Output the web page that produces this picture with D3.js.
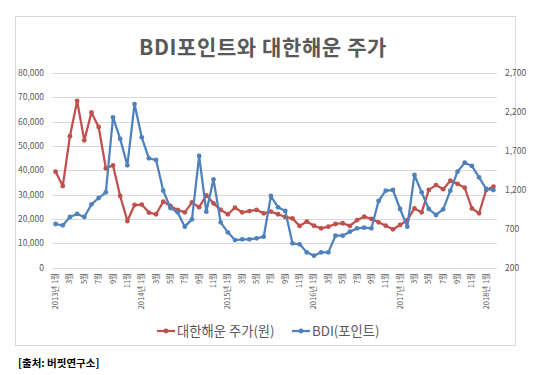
<!DOCTYPE html>
<html><head><meta charset="utf-8">
<script src="https://cdn.jsdelivr.net/npm/d3@7/dist/d3.min.js"></script>
<style>
html,body{margin:0;padding:0;background:#fff;}
svg{display:block;font-family:"Noto Sans CJK KR","Noto Sans",sans-serif;}
</style></head><body>
<svg id="c" width="538" height="375"></svg>
<script>
const months = ["2013-01","2013-02","2013-03","2013-04","2013-05","2013-06","2013-07","2013-08","2013-09","2013-10","2013-11","2013-12",
"2014-01","2014-02","2014-03","2014-04","2014-05","2014-06","2014-07","2014-08","2014-09","2014-10","2014-11","2014-12",
"2015-01","2015-02","2015-03","2015-04","2015-05","2015-06","2015-07","2015-08","2015-09","2015-10","2015-11","2015-12",
"2016-01","2016-02","2016-03","2016-04","2016-05","2016-06","2016-07","2016-08","2016-09","2016-10","2016-11","2016-12",
"2017-01","2017-02","2017-03","2017-04","2017-05","2017-06","2017-07","2017-08","2017-09","2017-10","2017-11","2017-12",
"2018-01","2018-02"];
const tickLabels = ["2013년 1월","3월","5월","7월","9월","11월","2014년 1월","3월","5월","7월","9월","11월",
"2015년 1월","3월","5월","7월","9월","11월","2016년 1월","3월","5월","7월","9월","11월",
"2017년 1월","3월","5월","7월","9월","11월","2018년 1월"];
const stockPrice = [39400,33500,54000,68500,52300,63800,57800,40800,42000,29400,19100,25700,
25900,22600,21900,27100,25300,23700,22700,26800,24800,29700,26400,23700,
21900,24600,22700,23200,23700,22300,23000,21900,20800,20200,17100,18900,
17200,16100,16800,17900,18200,17100,19500,20900,20000,18600,17200,15700,
17500,19500,24300,22700,31900,33900,32200,35700,34400,32800,24300,22300,
31900,33300];
const bdi = [759,742,849,888,849,1012,1093,1166,2130,1852,1513,2301,
1873,1603,1582,1187,965,909,725,819,1633,918,1333,781,
652,553,562,562,575,596,1119,973,926,511,498,395,
352,395,395,609,609,660,703,712,703,1055,1187,1196,
952,725,1389,1166,952,875,948,1187,1432,1547,1505,1359,
1209,1196];
const leftTicks = [0,10000,20000,30000,40000,50000,60000,70000,80000];
const rightTicks = [200,700,1200,1700,2200,2700];
const seriesNames = ["대한해운 주가(원)","BDI(포인트)"];
const titleText = "BDI포인트와 대한해운 주가";
const sourceText = "[출처: 버핏연구소]";

const RED = "#C0504D", BLUE = "#4F81BD", TXT = "#595959", GRID = "#D9D9D9";
const svg = d3.select("#c");

// chart frame
svg.append("rect").attr("x",15.5).attr("y",16.5).attr("width",500).attr("height",329)
  .attr("fill","#fff").attr("stroke",GRID).attr("stroke-width",1);

svg.append("text").attr("x",263).attr("y",55).attr("text-anchor","middle")
  .attr("font-size",21).attr("font-weight","bold").attr("letter-spacing",0.6).attr("fill",TXT).text(titleText);

const x = d3.scaleBand().domain(months).range([52,497]);
const yL = d3.scaleLinear().domain([0,80000]).range([267.5,73]);
const yR = d3.scaleLinear().domain([200,2700]).range([267.5,73]);
const cx = d => x(d) + x.bandwidth()/2;

// gridlines
svg.append("g").selectAll("line").data(leftTicks).join("line")
  .attr("x1",52).attr("x2",497).attr("y1",d=>Math.round(yL(d))+0.5).attr("y2",d=>Math.round(yL(d))+0.5)
  .attr("stroke",GRID).attr("stroke-width",1);

// left axis labels
const fmt = d3.format(",");
svg.append("g").selectAll("text").data(leftTicks).join("text")
  .attr("x",44).attr("y",d=>yL(d)+3).attr("text-anchor","end")
  .attr("font-size",8.5).attr("fill",TXT).text(d=>fmt(d));
// right axis labels
svg.append("g").selectAll("text").data(rightTicks).join("text")
  .attr("x",505).attr("y",d=>yR(d)+3).attr("text-anchor","start")
  .attr("font-size",8.5).attr("fill",TXT).text(d=>fmt(d));

// x tick labels (every other month)
const labelMonths = months.filter((m,i)=>i%2===0);
svg.append("g").selectAll("text").data(labelMonths).join("text")
  .attr("transform",(d)=>`translate(${cx(d)+2.5},${273}) rotate(-90)`)
  .attr("text-anchor","end").attr("font-size",7.5).attr("fill",TXT)
  .text((d,i)=>tickLabels[i]);

// lines
function drawSeries(vals, yS, color){
  const line = d3.line().x((d,i)=>cx(months[i])).y(d=>yS(d));
  svg.append("path").datum(vals).attr("d",line).attr("fill","none")
    .attr("stroke",color).attr("stroke-width",2.25).attr("stroke-linejoin","round");
  svg.append("g").selectAll("circle").data(vals).join("circle")
    .attr("cx",(d,i)=>cx(months[i])).attr("cy",d=>yS(d)).attr("r",2.4).attr("fill",color);
}
drawSeries(stockPrice, yL, RED);
drawSeries(bdi, yR, BLUE);

// legend
const leg = [{name:seriesNames[0],color:RED,x:157},{name:seriesNames[1],color:BLUE,x:292}];
const lg = svg.append("g");
leg.forEach(l=>{
  lg.append("line").attr("x1",l.x).attr("x2",l.x+18).attr("y1",331).attr("y2",331)
    .attr("stroke",l.color).attr("stroke-width",2.25);
  lg.append("circle").attr("cx",l.x+9).attr("cy",331).attr("r",2.4).attr("fill",l.color);
  lg.append("text").attr("x",l.x+20).attr("y",335.5).attr("font-size",13.3).attr("fill",TXT).text(l.name);
});

svg.append("text").attr("x",18).attr("y",367).attr("font-size",10.5).attr("font-weight","bold")
  .attr("fill","#000").text(sourceText);
</script>
</body></html>
